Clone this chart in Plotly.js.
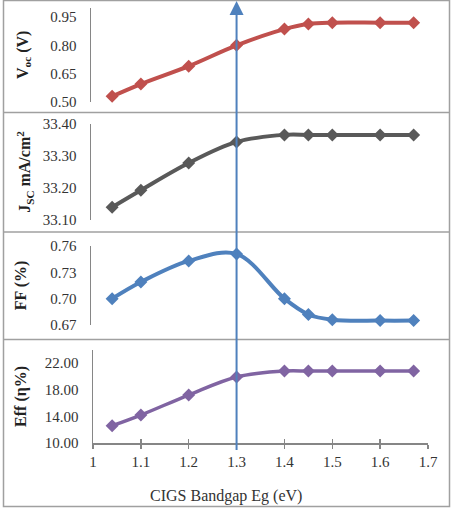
<!DOCTYPE html>
<html>
<head>
<meta charset="utf-8">
<script src="https://cdn.plot.ly/plotly-3.0.1.min.js"></script>
<style>html,body{margin:0;padding:0;background:#fff;}#chart{width:453px;height:509px;}</style>
</head>
<body>
<div id="chart"></div>
<script>
// Data
const bandgap = [1.04, 1.1, 1.2, 1.3, 1.4, 1.45, 1.5, 1.6, 1.67];
const voc = [0.53, 0.595, 0.69, 0.80, 0.886, 0.913, 0.92, 0.92, 0.92];
const jsc = [33.14, 33.193, 33.278, 33.344, 33.366, 33.366, 33.366, 33.366, 33.366];
const ff = [0.700, 0.719, 0.743, 0.751, 0.700, 0.682, 0.676, 0.675, 0.675];
const eff = [12.6, 14.2, 17.2, 19.9, 20.8, 20.8, 20.8, 20.8, 20.8];
const markerX = 1.3;
const xTitle = "CIGS Bandgap Eg (eV)";
const yTitles = ["V<sub>oc</sub> (V)", "J<sub>SC</sub> mA/cm<sup>2</sup>", "FF (%)", "Eff (η%)"];

const W = 453, H = 509;
const serif = 'Liberation Serif, Times New Roman, serif';
const px = v => v / W;
const py = v => (H - v) / H;

function series(y, axis, color, width) {
  return {
    x: bandgap, y: y, xaxis: 'x', yaxis: axis, type: 'scatter', mode: 'lines+markers',
    line: {color: color, width: width, shape: 'spline', smoothing: 1},
    marker: {symbol: 'diamond', size: 10, color: color},
    cliponaxis: false, showlegend: false, hoverinfo: 'x+y'
  };
}

const traces = [
  series(voc, 'y', '#c0504d', 4),
  series(jsc, 'y2', '#595959', 4),
  series(ff, 'y3', '#4f81bd', 4),
  series(eff, 'y4', '#8064a2', 3.5),
  // invisible companion trace so the inside tick marks of the bottom axis are drawn
  {x: bandgap, y: eff, xaxis: 'x2', yaxis: 'y4', type: 'scatter', mode: 'markers',
   marker: {size: 1, opacity: 0}, showlegend: false, hoverinfo: 'skip'}
];

function yax(domain, range, tick0, dtick, title, standoff, free) {
  const a = {
    domain: domain, range: range, tick0: tick0, dtick: dtick, tickformat: '.2f',
    showline: true, linecolor: '#868686', linewidth: 1.5, showgrid: false, zeroline: false,
    ticks: '', ticklabelstandoff: 10,
    tickfont: {family: serif, size: 15, color: '#333333'},
    title: {text: title, font: {family: serif, size: 16, color: '#222222', weight: 'bold'}, standoff: standoff},
    automargin: false, fixedrange: true
  };
  if (free) { a.anchor = 'free'; a.position = px(89.5); } else { a.anchor = 'x'; }
  return a;
}

const layout = {
  width: W, height: H,
  margin: {l: 0, r: 0, t: 0, b: 0},
  paper_bgcolor: '#ffffff', plot_bgcolor: 'rgba(0,0,0,0)',
  font: {family: serif, color: '#333333'},
  xaxis: {
    domain: [px(93), px(428)], range: [1, 1.7], dtick: 0.1, tick0: 1,
    anchor: 'y4', showline: true, linecolor: '#868686', linewidth: 1.5,
    ticks: 'outside', ticklen: 4, tickcolor: '#868686', tickwidth: 1.5,
    showgrid: false, zeroline: false, automargin: false, fixedrange: true,
    tickfont: {family: serif, size: 15, color: '#333333'}
  },
  xaxis2: {
    domain: [px(93), px(428)], range: [1, 1.7], dtick: 0.1, tick0: 1,
    anchor: 'y4', overlaying: 'x', side: 'bottom', showline: false,
    ticks: 'inside', ticklen: 4, tickcolor: '#868686', tickwidth: 1.5,
    showticklabels: false, showgrid: false, zeroline: false, automargin: false, fixedrange: true
  },
  yaxis: yax([py(102), py(7.6)], [0.5, 1.0], 0.5, 0.15, yTitles[0], 16, true),
  yaxis2: yax([py(220), py(124)], [33.1, 33.4], 33.1, 0.1, yTitles[1], 6, true),
  yaxis3: yax([py(325), py(246)], [0.67, 0.76], 0.67, 0.03, yTitles[2], 18, true),
  yaxis4: yax([py(443), py(349.7)], [10, 24], 10, 4, yTitles[3], 14, false),
  shapes: [
    {type: 'rect', xref: 'paper', yref: 'paper', x0: px(3.5), x1: px(449.5), y0: py(506.5), y1: py(0.5),
     line: {color: '#a0a0a0', width: 1.5}},
    {type: 'line', xref: 'paper', yref: 'paper', x0: px(3.5), x1: px(449.5), y0: py(112.5), y1: py(112.5),
     line: {color: '#a0a0a0', width: 1.5}},
    {type: 'line', xref: 'paper', yref: 'paper', x0: px(3.5), x1: px(449.5), y0: py(232), y1: py(232),
     line: {color: '#a0a0a0', width: 1.5}},
    {type: 'line', xref: 'paper', yref: 'paper', x0: px(3.5), x1: px(449.5), y0: py(339.5), y1: py(339.5),
     line: {color: '#a0a0a0', width: 1.5}}
  ],
  annotations: [
    {x: markerX, xref: 'x', y: py(0.5), yref: 'paper', text: '', showarrow: true,
     ax: 0, ay: 451, arrowhead: 2, arrowsize: 1.4, arrowwidth: 2, arrowcolor: '#4f81bd', standoff: 0},
    {x: px(226), xref: 'paper', y: py(496), yref: 'paper', text: xTitle, showarrow: false,
     xanchor: 'center', yanchor: 'middle', font: {family: serif, size: 16, color: '#333333'}}
  ]
};

Plotly.newPlot('chart', traces, layout, {displayModeBar: false, staticPlot: true});
</script>
</body>
</html>
